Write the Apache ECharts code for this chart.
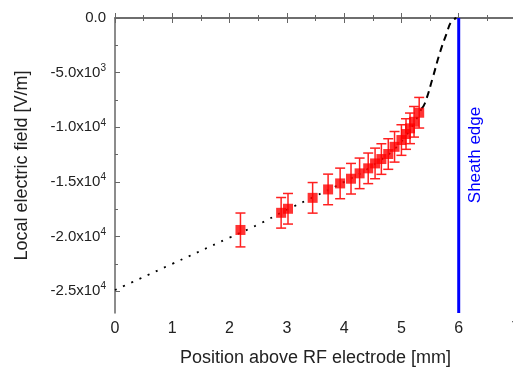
<!DOCTYPE html>
<html>
<head>
<meta charset="utf-8">
<script src="https://cdn.jsdelivr.net/npm/echarts@6/dist/echarts.min.js"></script>
<style>
  html, body { margin: 0; padding: 0; background: #fff; }
  #chart { width: 513px; height: 371px; }
</style>
</head>
<body>
<div id="chart"></div>
<script>
// measured points (position in mm, field in V/m, error bar half-height)
const posX = [2.19, 2.90, 3.02, 3.45, 3.72, 3.93, 4.12, 4.27, 4.42, 4.54, 4.65, 4.77, 4.88, 5.00, 5.08, 5.15, 5.22, 5.31];
const fieldY = [-19400, -17830, -17460, -16460, -15690, -15140, -14710, -14220, -13760, -13310, -12910, -12450, -11790, -11170, -10620, -10100, -9500, -8670];
const fieldErr = [1550, 1400, 1400, 1400, 1400, 1400, 1400, 1400, 1400, 1400, 1400, 1400, 1400, 1400, 1400, 1400, 1400, 1400];

// dotted fit curve
const fitX = [0, 1, 2, 2.5, 3, 3.5, 4, 4.5, 5, 5.35];
const fitY = [-24900, -22500, -20100, -18900, -17550, -16300, -15000, -13500, -11300, -8300];

// dashed extrapolation up to the sheath edge
const dashX = [5.35, 5.41, 5.55, 5.67, 5.79, 5.87, 5.96];
const dashY = [-8300, -7800, -5400, -3200, -1400, -340, 0];

// y axis ticks
const yMajor = [0, -5000, -10000, -15000, -20000, -25000];
const yMinor = [-2500, -7500, -12500, -17500, -22500];

const sheathX = 6;
const yMin = -27000;

const chart = echarts.init(document.getElementById('chart'));

const pts = posX.map((x, i) => [x, fieldY[i]]);
const bars = posX.map((x, i) => [x, fieldY[i] - fieldErr[i], fieldY[i] + fieldErr[i]]);
const fit = fitX.map((x, i) => [x, fitY[i]]);
const dash = dashX.map((x, i) => [x, dashY[i]]);

const axisColor = '#666';
const font = 'Liberation Sans, Arial, sans-serif';

function yLabel(v) {
  if (v === 0) return '0.0';
  const e = Math.floor(Math.log10(Math.abs(v)) + 1e-9);
  const m = (v / Math.pow(10, e)).toFixed(1);
  return m + 'x10{sup|' + e + '}';
}

const xAxisBase = {
  type: 'value',
  min: 0,
  max: 7,
  interval: 1,
  axisLine: { lineStyle: { color: axisColor, width: 1.5 } },
  axisTick: { inside: true, length: 5, lineStyle: { color: axisColor } },
  minorTick: { show: true, splitNumber: 2, length: 3, lineStyle: { color: axisColor } },
  splitLine: { show: false }
};

const options = {
  animation: false,
  grid: { left: 115, right: -3, top: 18, bottom: 58, outerBoundsMode: 'none' },
  xAxis: [
    Object.assign({}, xAxisBase, {
      name: 'Position above RF electrode [mm]',
      nameLocation: 'middle',
      nameGap: 36,
      nameTextStyle: { fontFamily: font, fontSize: 18, color: '#222' },
      axisLabel: { fontFamily: font, fontSize: 16, color: '#222', margin: 8, showMaxLabel: true, hideOverlap: false }
    }),
    Object.assign({}, xAxisBase, {
      position: 'top',
      axisLabel: { show: false }
    })
  ],
  yAxis: [
    {
      type: 'value',
      min: yMin,
      max: 0,
      name: 'Local electric field [V/m]',
      nameLocation: 'middle',
      nameGap: 84,
      nameTextStyle: { fontFamily: font, fontSize: 18, color: '#222' },
      axisLine: { show: true, lineStyle: { color: axisColor, width: 1.5 } },
      axisTick: { show: true, inside: true, length: 5, customValues: yMajor, lineStyle: { color: axisColor } },
      axisLabel: {
        fontFamily: font,
        fontSize: 15,
        color: '#222',
        margin: 9,
        customValues: yMajor,
        formatter: yLabel,
        rich: {
          sup: { fontFamily: font, fontSize: 10, color: '#222', padding: [0, 0, 9, 0] }
        }
      },
      splitLine: { show: false }
    },
    {
      type: 'value',
      position: 'left',
      min: yMin,
      max: 0,
      axisLine: { show: false },
      axisTick: { show: true, inside: true, length: 3, customValues: yMinor, lineStyle: { color: axisColor } },
      axisLabel: { show: false },
      splitLine: { show: false }
    }
  ],
  series: [
    {
      type: 'line',
      data: fit,
      smooth: true,
      symbol: 'none',
      lineStyle: { color: '#000', width: 1.8, type: [2, 7] },
      z: 2
    },
    {
      type: 'line',
      data: dash,
      smooth: true,
      symbol: 'none',
      lineStyle: { color: '#000', width: 2, type: [7, 5] },
      z: 2
    },
    {
      type: 'line',
      data: [[sheathX, 0], [sheathX, yMin]],
      symbol: 'none',
      lineStyle: { color: '#0000ff', width: 3 },
      z: 3
    },
    {
      type: 'custom',
      data: bars,
      renderItem: function (params, api) {
        const x = api.value(0);
        const lo = api.coord([x, api.value(1)]);
        const hi = api.coord([x, api.value(2)]);
        const w = 5;
        const style = { stroke: '#ff2020', lineWidth: 1.5 };
        return {
          type: 'group',
          children: [
            { type: 'line', shape: { x1: lo[0], y1: lo[1], x2: hi[0], y2: hi[1] }, style: style },
            { type: 'line', shape: { x1: lo[0] - w, y1: lo[1], x2: lo[0] + w, y2: lo[1] }, style: style },
            { type: 'line', shape: { x1: hi[0] - w, y1: hi[1], x2: hi[0] + w, y2: hi[1] }, style: style }
          ]
        };
      },
      z: 4
    },
    {
      type: 'scatter',
      data: pts,
      symbol: 'rect',
      symbolSize: 10,
      itemStyle: { color: '#ff0000' },
      z: 5
    }
  ],
  graphic: [
    {
      type: 'text',
      x: 475,
      y: 155,
      rotation: Math.PI / 2,
      style: {
        text: 'Sheath edge',
        fontFamily: font,
        fontSize: 17,
        fill: '#0000ff',
        textAlign: 'center',
        textVerticalAlign: 'middle'
      }
    }
  ]
};

chart.setOption(options);
</script>
</body>
</html>
